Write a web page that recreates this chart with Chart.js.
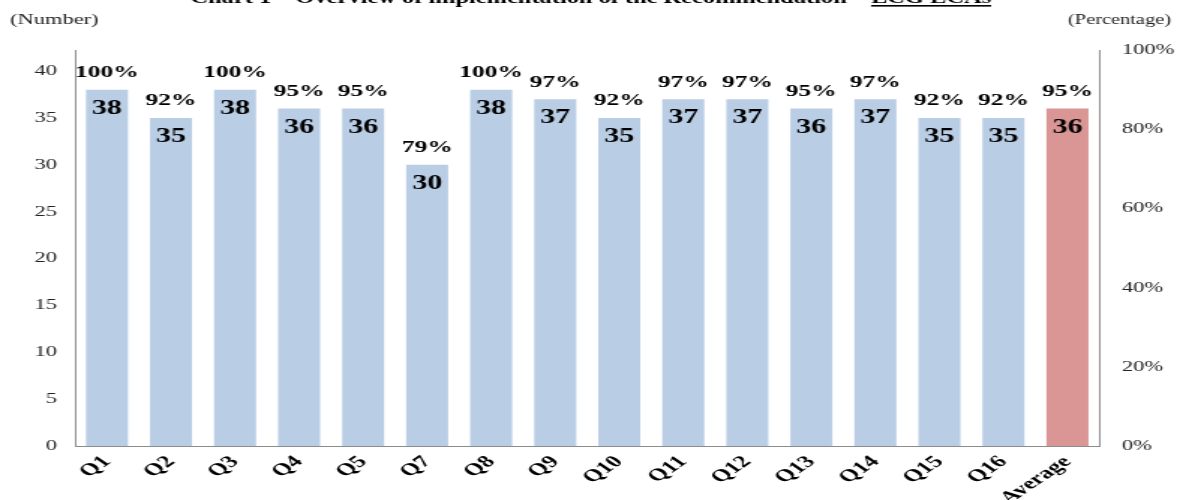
<!DOCTYPE html>
<html>
<head>
<meta charset="utf-8">
<script src="https://cdn.jsdelivr.net/npm/chart.js@4/dist/chart.umd.min.js"></script>
<style>
html,body{margin:0;padding:0;background:#fff;}
</style>
</head>
<body>
<canvas id="c" width="785" height="500" style="width:1177px;height:500px;display:block"></canvas>
<script>
const categories = ['Q1','Q2','Q3','Q4','Q5','Q7','Q8','Q9','Q10','Q11','Q12','Q13','Q14','Q15','Q16','Average'];
const counts = [38,35,38,36,36,30,38,37,35,37,37,36,37,35,35,36];
const percents = [100,92,100,95,95,79,100,97,92,97,97,95,97,92,92,95];
const leftTicks = [0,5,10,15,20,25,30,35,40];
const rightTicks = [0,20,40,60,80,100];
const titleMain = 'Chart 1 \u2013 Overview of implementation of the Recommendation \u2013 ';
const titleTail = 'LCG LCAs';

const BLUE = '#B9CDE5';
const PINK = '#D99694';
const SERIF = '"Liberation Serif", "Times New Roman", serif';

const barColors = categories.map(c => c === 'Average' ? PINK : BLUE);

const textPlugin = {
  id: 'texts',
  afterDatasetsDraw(chart) {
    const ctx = chart.ctx;
    const meta = chart.getDatasetMeta(0);
    ctx.save();
    ctx.fillStyle = '#000';
    ctx.textAlign = 'center';
    ctx.textBaseline = 'middle';
    meta.data.forEach((bar, i) => {
      ctx.font = 'bold 20px ' + SERIF;
      ctx.fillText(String(counts[i]), bar.x, bar.y + 19);
      ctx.font = 'bold 17px ' + SERIF;
      ctx.fillText(percents[i] + '%', bar.x, bar.y - 17);
    });
    // axis unit titles
    ctx.fillStyle = '#222';
    ctx.font = '15px ' + SERIF;
    ctx.textAlign = 'left';
    ctx.fillText('(Number)', 6.7, 20);
    ctx.textAlign = 'right';
    ctx.font = '13.6px ' + SERIF;
    ctx.fillText('(Percentage)', 781, 20);
    // chart title (cut off at top)
    ctx.fillStyle = '#000';
    ctx.font = 'bold 16.3px ' + SERIF;
    ctx.textAlign = 'left';
    ctx.textBaseline = 'alphabetic';
    const wMain = ctx.measureText(titleMain).width;
    const wTail = ctx.measureText(titleTail).width;
    const x0 = 394 - (wMain + wTail) / 2;
    ctx.fillText(titleMain, x0, 3);
    ctx.fillText(titleTail, x0 + wMain, 3);
    ctx.fillRect(x0 + wMain, 5, wTail, 1.6);
    ctx.restore();
  }
};

new Chart(document.getElementById('c'), {
  type: 'bar',
  data: {
    labels: categories,
    datasets: [{
      data: counts,
      backgroundColor: barColors,
      borderWidth: 0,
      barPercentage: 0.82,
      categoryPercentage: 0.8,
      yAxisID: 'y'
    }]
  },
  options: {
    responsive: false,
    devicePixelRatio: 1,
    animation: false,
    layout: { padding: { top: 50, left: 0, right: 0, bottom: 0 } },
    plugins: { legend: { display: false }, tooltip: { enabled: false }, title: { display: false } },
    scales: {
      x: {
        grid: { display: false, drawTicks: false },
        border: { display: true, color: '#8c8c8c', width: 1 },
        ticks: {
          color: '#000',
          font: { family: SERIF, size: 17, weight: 'bold' },
          maxRotation: 45, minRotation: 45,
          padding: 6,
          autoSkip: false
        },
        afterFit(s) { s.height = 54; s.paddingLeft = 0; s.paddingRight = 0; }
      },
      y: {
        position: 'left',
        min: 0, max: 42.24,
        grid: { display: false, drawTicks: false },
        border: { display: true, color: '#8c8c8c', width: 1 },
        ticks: {
          color: '#222',
          font: { family: SERIF, size: 15 },
          padding: 12
        },
        afterBuildTicks(s) { s.ticks = leftTicks.map(v => ({ value: v })); },
        afterFit(s) { s.width = 50; s.paddingTop = 0; s.paddingBottom = 0; }
      },
      y1: {
        position: 'right',
        min: 0, max: 100,
        grid: { display: false, drawTicks: false },
        border: { display: true, color: '#8c8c8c', width: 1 },
        ticks: {
          color: '#222',
          font: { family: SERIF, size: 15 },
          padding: 15,
          callback: v => v + '%'
        },
        afterBuildTicks(s) { s.ticks = rightTicks.map(v => ({ value: v })); },
        afterFit(s) { s.width = 51.7; s.paddingTop = 0; s.paddingBottom = 0; }
      }
    }
  },
  plugins: [textPlugin]
});
</script>
</body>
</html>
